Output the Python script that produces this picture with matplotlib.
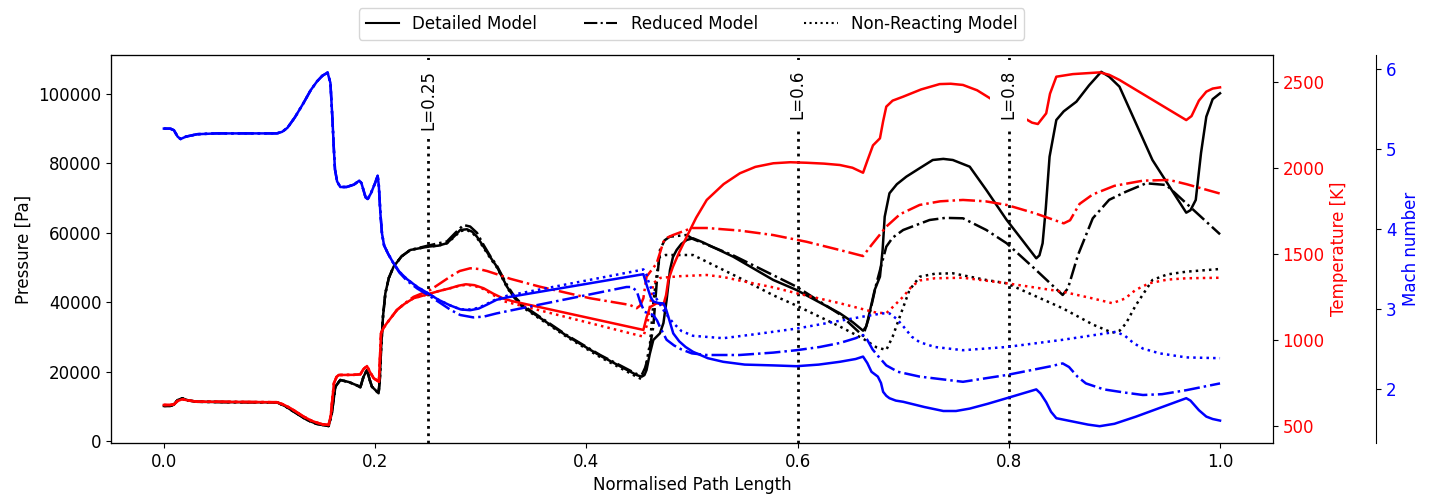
import numpy as np
import matplotlib
matplotlib.use('Agg')
import matplotlib.pyplot as plt
import matplotlib.transforms as mtransforms
from matplotlib.lines import Line2D

plt.rcParams['font.size'] = 12

# Pressure [Pa] along the normalised path, (L, value)
p_inlet = [(0.0, 10100), (0.006, 10100), (0.0095, 10500), (0.013, 11800), (0.0174, 12300),
           (0.023, 11700), (0.0316, 11300), (0.06, 11200), (0.107, 11150), (0.115, 10000),
           (0.123, 8450), (0.1356, 6050), (0.145, 4900), (0.156, 4320), (0.159, 8000),
           (0.1624, 15650), (0.167, 17580), (0.175, 17000), (0.183, 16000), (0.186, 15480),
           (0.189, 18500), (0.1923, 20460), (0.195, 17500), (0.197, 15650), (0.2033, 13750),
           (0.2045, 18000), (0.2056, 26230), (0.2075, 36000), (0.2097, 42570), (0.213, 47000),
           (0.2175, 50230), (0.225, 53200), (0.2333, 55050)]
p_detailed = p_inlet + [
    (0.25, 56000), (0.26, 56300), (0.268, 57000), (0.275, 59000), (0.2806, 60810),
    (0.287, 61010), (0.292, 60300), (0.2964, 58880), (0.3027, 56000), (0.309, 53000),
    (0.3153, 50230), (0.3248, 44500), (0.332, 41200), (0.3404, 38700), (0.3815, 30300),
    (0.413, 24600), (0.4477, 19000), (0.4524, 18530), (0.455, 19000), (0.457, 20460),
    (0.46, 25000), (0.4634, 29110), (0.4697, 31040), (0.473, 34000), (0.476, 40640),
    (0.4792, 49280), (0.482, 53000), (0.4855, 55050), (0.49, 56800), (0.495, 57930),
    (0.501, 58420), (0.51, 57300), (0.539, 53120), (0.577, 46400), (0.599, 43520),
    (0.64, 36800), (0.652, 34300), (0.662, 31790), (0.665, 33000), (0.668, 36800),
    (0.673, 43520), (0.678, 47350), (0.6805, 55000), (0.6825, 64640), (0.687, 71390),
    (0.694, 74000), (0.703, 76180), (0.715, 78500), (0.728, 80980), (0.738, 81300),
    (0.747, 80980), (0.763, 79050), (0.7787, 72340), (0.798, 63690), (0.812, 58200),
    (0.826, 52650), (0.829, 53500), (0.832, 56980), (0.835, 67000), (0.8386, 81930),
    (0.845, 92510), (0.852, 95000), (0.864, 97790), (0.876, 102500), (0.8875, 106400),
    (0.895, 105000), (0.9048, 102110), (0.936, 80980), (0.968, 65800), (0.972, 66500),
    (0.977, 69460), (0.982, 83000), (0.987, 93460), (0.993, 98500), (1.0, 100200)]
p_reduced = p_inlet + [
    (0.25, 56300), (0.268, 57500), (0.276, 60000), (0.2837, 62250), (0.29, 61800),
    (0.2964, 60000), (0.3027, 56500), (0.309, 53300), (0.3153, 50500), (0.3248, 45000),
    (0.332, 41600), (0.3404, 39000), (0.3815, 30500), (0.413, 24800), (0.4477, 19300),
    (0.4524, 19000), (0.4555, 21000), (0.4587, 24300), (0.4634, 32940), (0.4666, 45450),
    (0.4697, 55050), (0.474, 57800), (0.479, 58880), (0.495, 59370), (0.501, 58200),
    (0.539, 53500), (0.599, 44470), (0.64, 36500), (0.662, 30260), (0.667, 35000),
    (0.6747, 45450), (0.684, 56000), (0.69, 58600), (0.70, 60810), (0.725, 63690),
    (0.74, 64300), (0.7566, 64180), (0.7787, 60810), (0.798, 56980), (0.825, 49500),
    (0.851, 42080), (0.856, 44000), (0.8655, 53600), (0.8795, 64180), (0.895, 69500),
    (0.911, 71850), (0.930, 74270), (0.949, 73780), (0.968, 68500), (1.0, 59570)]
p_nonreacting = p_inlet + [
    (0.25, 56000), (0.26, 56300), (0.268, 56980), (0.275, 58800), (0.2806, 60500),
    (0.287, 60800), (0.292, 60000), (0.2964, 58600), (0.3027, 55700), (0.309, 52700),
    (0.3153, 50000), (0.3248, 44300), (0.332, 41000), (0.3404, 38400), (0.3815, 30000),
    (0.413, 24200), (0.4477, 18500), (0.4524, 17800), (0.456, 21000), (0.4603, 28160),
    (0.4635, 40000), (0.4666, 48000), (0.4697, 53120), (0.475, 53600), (0.501, 53600),
    (0.545, 47000), (0.577, 42000), (0.599, 39000), (0.64, 33000), (0.662, 29500),
    (0.6747, 27000), (0.684, 26230), (0.690, 30060), (0.697, 36000), (0.706, 43520),
    (0.7156, 47350), (0.73, 48200), (0.747, 48330), (0.7787, 46400), (0.798, 45450),
    (0.851, 38240), (0.88, 33500), (0.898, 31210), (0.905, 31800), (0.911, 33920),
    (0.92, 39000), (0.936, 46400), (0.95, 48000), (0.968, 48790), (1.0, 49570)]

# Temperature [K]
t_inlet = [(0.0, 622), (0.006, 622), (0.0095, 625), (0.013, 645), (0.0174, 655), (0.023, 648),
           (0.0316, 641), (0.06, 640), (0.107, 638), (0.113, 625), (0.12, 603), (0.1324, 554),
           (0.14, 530), (0.145, 519), (0.150, 510), (0.156, 506), (0.158, 560), (0.161, 748),
           (0.1635, 785), (0.1656, 796), (0.18, 797), (0.186, 800), (0.189, 830), (0.1923, 848),
           (0.195, 815), (0.1987, 777), (0.2036, 757), (0.2045, 880), (0.2056, 1038),
           (0.208, 1070), (0.211, 1096), (0.2207, 1174)]
t_detailed = t_inlet + [
    (0.228, 1210), (0.2364, 1242), (0.25, 1265), (0.26, 1283), (0.271, 1300), (0.279, 1315),
    (0.286, 1323), (0.294, 1318), (0.3027, 1300), (0.312, 1268), (0.3215, 1240), (0.33, 1225),
    (0.454, 1058), (0.457, 1130), (0.4603, 1190), (0.4666, 1213), (0.473, 1205), (0.4755, 1260),
    (0.4776, 1348), (0.482, 1425), (0.488, 1510), (0.495, 1599), (0.504, 1710), (0.514, 1813),
    (0.53, 1905), (0.5454, 1968), (0.56, 2005), (0.577, 2026), (0.593, 2032), (0.6085, 2029),
    (0.625, 2024), (0.64, 2016), (0.652, 2000), (0.662, 1971), (0.666, 2040), (0.6714, 2130),
    (0.678, 2171), (0.681, 2270), (0.684, 2355), (0.69, 2390), (0.70, 2413), (0.717, 2455),
    (0.7345, 2486), (0.745, 2488), (0.7566, 2481), (0.77, 2450), (0.785, 2393), (0.80, 2335),
    (0.815, 2287), (0.822, 2262), (0.8275, 2254), (0.8354, 2316), (0.839, 2430), (0.845, 2529),
    (0.8606, 2544), (0.886, 2554), (0.895, 2540), (0.9048, 2510), (0.968, 2277), (0.973, 2300),
    (0.98, 2390), (0.987, 2442), (0.993, 2460), (1.0, 2467)]
t_reduced = t_inlet + [
    (0.228, 1212), (0.2364, 1250), (0.2522, 1290), (0.262, 1330), (0.271, 1367), (0.28, 1400),
    (0.29, 1416), (0.298, 1412), (0.306, 1400), (0.316, 1380), (0.328, 1355), (0.356, 1309),
    (0.4035, 1242), (0.4413, 1203), (0.4477, 1184), (0.451, 1200), (0.454, 1242), (0.457, 1367),
    (0.4666, 1445), (0.473, 1570), (0.477, 1595), (0.482, 1609), (0.5, 1650), (0.514, 1650),
    (0.5454, 1635), (0.577, 1609), (0.6085, 1570), (0.64, 1522), (0.662, 1487), (0.670, 1551),
    (0.684, 1658), (0.697, 1730), (0.7156, 1784), (0.735, 1805), (0.7566, 1813), (0.778, 1805),
    (0.798, 1784), (0.825, 1735), (0.852, 1677), (0.858, 1695), (0.867, 1790), (0.8795, 1845),
    (0.9, 1895), (0.927, 1925), (0.952, 1929), (0.968, 1905), (1.0, 1850)]
t_nonreacting = t_inlet + [
    (0.228, 1210), (0.2364, 1242), (0.25, 1265), (0.26, 1283), (0.271, 1300), (0.279, 1313),
    (0.286, 1320), (0.294, 1314), (0.3027, 1295), (0.3215, 1225), (0.454, 1019), (0.456, 1060),
    (0.458, 1100), (0.4634, 1330), (0.47, 1360), (0.4886, 1370), (0.514, 1377), (0.53, 1365),
    (0.545, 1345), (0.577, 1305), (0.599, 1271), (0.64, 1213), (0.6747, 1158), (0.684, 1155),
    (0.69, 1190), (0.70, 1251), (0.708, 1310), (0.7156, 1345), (0.73, 1358), (0.7566, 1361),
    (0.798, 1329), (0.851, 1280), (0.88, 1240), (0.898, 1213), (0.91, 1240), (0.92, 1290),
    (0.933, 1329), (0.95, 1350), (0.968, 1358), (1.0, 1361)]

# Mach number
m_inlet = [(0.0, 5.26), (0.006, 5.26), (0.0095, 5.24), (0.013, 5.16), (0.0158, 5.13),
           (0.021, 5.16), (0.0316, 5.19), (0.05, 5.2), (0.107, 5.2), (0.112, 5.22), (0.117, 5.27),
           (0.124, 5.40), (0.132, 5.575), (0.139, 5.74), (0.145, 5.85), (0.150, 5.92),
           (0.155, 5.96), (0.1577, 5.83), (0.1595, 5.4), (0.161, 4.99), (0.162, 4.75),
           (0.164, 4.6), (0.167, 4.53), (0.173, 4.53), (0.180, 4.56), (0.185, 4.61),
           (0.187, 4.58), (0.189, 4.49), (0.191, 4.40), (0.193, 4.38), (0.196, 4.45),
           (0.2, 4.58), (0.2024, 4.67), (0.2035, 4.55), (0.205, 4.2), (0.2065, 3.95),
           (0.2085, 3.80), (0.2125, 3.69), (0.2175, 3.575)]
m_detailed = m_inlet + [
    (0.223, 3.47), (0.230, 3.38), (0.24, 3.28), (0.249, 3.21), (0.26, 3.12), (0.271, 3.05),
    (0.281, 3.0), (0.290, 2.99), (0.298, 3.01), (0.306, 3.06), (0.315, 3.12), (0.3248, 3.15),
    (0.454, 3.44), (0.4565, 3.33), (0.4587, 3.24), (0.461, 3.15), (0.4634, 3.10), (0.468, 3.08),
    (0.473, 3.075), (0.4755, 3.0), (0.4776, 2.91), (0.4823, 2.70), (0.488, 2.6), (0.494, 2.53),
    (0.501, 2.47), (0.515, 2.39), (0.5296, 2.345), (0.55, 2.31), (0.577, 2.30), (0.599, 2.29),
    (0.62, 2.31), (0.64, 2.345), (0.655, 2.38), (0.662, 2.41), (0.666, 2.33), (0.670, 2.22),
    (0.676, 2.16), (0.679, 2.08), (0.681, 1.97), (0.684, 1.92), (0.687, 1.89), (0.693, 1.86),
    (0.700, 1.845), (0.72, 1.78), (0.738, 1.73), (0.75, 1.73), (0.763, 1.76), (0.78, 1.82),
    (0.798, 1.89), (0.826, 2.0), (0.83, 1.95), (0.8354, 1.84), (0.84, 1.72), (0.845, 1.64),
    (0.86, 1.6), (0.875, 1.56), (0.886, 1.54), (0.9, 1.57), (0.9205, 1.66), (0.968, 1.89),
    (0.972, 1.86), (0.98, 1.74), (0.987, 1.66), (0.993, 1.63), (1.0, 1.61)]
m_reduced = m_inlet + [
    (0.223, 3.46), (0.230, 3.36), (0.24, 3.26), (0.249, 3.19), (0.2617, 3.08), (0.272, 2.99),
    (0.2806, 2.93), (0.293, 2.9), (0.303, 2.91), (0.315, 2.95), (0.337, 3.01), (0.438, 3.28),
    (0.443, 3.28), (0.4477, 3.23), (0.4508, 3.1), (0.455, 2.97), (0.4634, 2.93), (0.467, 2.86),
    (0.4697, 2.78), (0.476, 2.62), (0.483, 2.55), (0.49, 2.50), (0.50, 2.45), (0.514, 2.43),
    (0.545, 2.43), (0.577, 2.46), (0.599, 2.49), (0.621, 2.53), (0.64, 2.58), (0.655, 2.64),
    (0.662, 2.68), (0.666, 2.62), (0.671, 2.5), (0.676, 2.42), (0.684, 2.30), (0.695, 2.22),
    (0.7156, 2.16), (0.7566, 2.095), (0.798, 2.18), (0.84, 2.29), (0.851, 2.325),
    (0.857, 2.28), (0.865, 2.16), (0.873, 2.075), (0.89, 2.0), (0.91, 1.96), (0.927, 1.93),
    (0.945, 1.94), (0.968, 1.99), (1.0, 2.075)]
m_nonreacting = m_inlet + [
    (0.223, 3.47), (0.230, 3.38), (0.24, 3.28), (0.249, 3.21), (0.26, 3.12), (0.271, 3.05),
    (0.281, 3.0), (0.290, 3.0), (0.298, 3.02), (0.306, 3.07), (0.315, 3.13), (0.3248, 3.17),
    (0.4508, 3.49), (0.454, 3.50), (0.457, 3.43), (0.460, 3.30), (0.4666, 3.13), (0.475, 2.95),
    (0.4823, 2.83), (0.49, 2.73), (0.501, 2.67), (0.5296, 2.64), (0.56, 2.69), (0.599, 2.76),
    (0.662, 2.91), (0.68, 2.95), (0.687, 2.95), (0.694, 2.88), (0.70, 2.79), (0.708, 2.66),
    (0.7156, 2.59), (0.73, 2.53), (0.7566, 2.49), (0.798, 2.53), (0.851, 2.62), (0.9016, 2.72),
    (0.91, 2.67), (0.918, 2.58), (0.927, 2.51), (0.943, 2.45), (0.968, 2.40), (1.0, 2.39)]

marker_positions = [0.25, 0.6, 0.8]
model_names = ['Detailed Model', 'Reduced Model', 'Non-Reacting Model']
model_styles = ['-', '-.', ':']

fig, ax = plt.subplots(figsize=(14.35, 5), dpi=100)
fig.subplots_adjust(left=0.0774, right=0.887, bottom=0.114, top=0.89)
ax2 = ax.twinx()
ax3 = ax.twinx()
ax3.spines['right'].set_position(('axes', 1.089))

lw = 1.8
for series, style in zip([p_detailed, p_reduced, p_nonreacting], model_styles):
    d = np.array(series)
    ax.plot(d[:, 0], d[:, 1], color='black', linestyle=style, linewidth=lw)
for series, style in zip([t_detailed, t_reduced, t_nonreacting], model_styles):
    d = np.array(series)
    ax2.plot(d[:, 0], d[:, 1], color='red', linestyle=style, linewidth=lw)
for series, style in zip([m_detailed, m_reduced, m_nonreacting], model_styles):
    d = np.array(series)
    ax3.plot(d[:, 0], d[:, 1], color='blue', linestyle=style, linewidth=lw)

# path markers with labels (white box hides lines behind the label)
trans = mtransforms.blended_transform_factory(ax3.transData, ax3.transAxes)
for pos in marker_positions:
    ax.axvline(pos, color='black', linestyle=':', linewidth=2)
    ax3.text(pos, 0.962, 'L=' + str(pos), transform=trans, rotation=90, ha='center', va='top',
             bbox=dict(facecolor='white', edgecolor='none', pad=7), zorder=10)

ax.set_xlim(-0.05, 1.05)
ax.set_ylim(-580, 111240)
ax2.set_ylim(401, 2655)
ax3.set_ylim(1.33, 6.18)
ax.set_xticks([0.0, 0.2, 0.4, 0.6, 0.8, 1.0])
ax.set_yticks([0, 20000, 40000, 60000, 80000, 100000])
ax2.set_yticks([500, 1000, 1500, 2000, 2500])
ax3.set_yticks([2, 3, 4, 5, 6])

ax.set_xlabel('Normalised Path Length')
ax.set_ylabel('Pressure [Pa]')
ax2.set_ylabel('Temperature [K]', color='red')
ax3.set_ylabel('Mach number', color='blue')
ax2.tick_params(axis='y', labelcolor='red')
ax3.tick_params(axis='y', labelcolor='blue')

handles = [Line2D([], [], color='black', linestyle=s, linewidth=1.5) for s in model_styles]
fig.legend(handles, model_names, loc='upper center', bbox_to_anchor=(0.482, 1.0), ncol=3,
           fontsize=12, columnspacing=2.8)

fig.savefig('out.png', dpi=100)
